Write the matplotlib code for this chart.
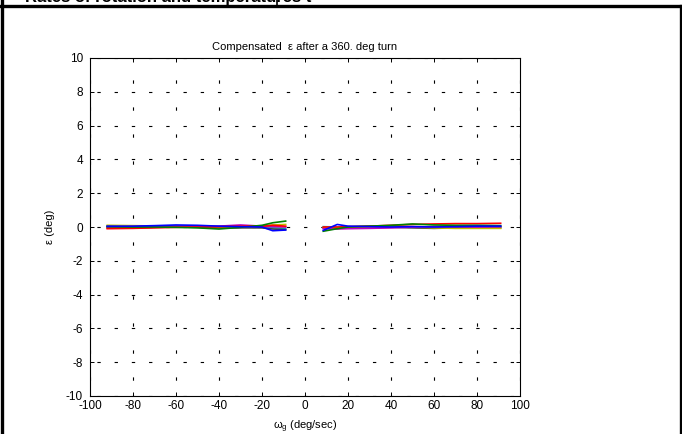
import matplotlib
matplotlib.use('Agg')
import matplotlib.pyplot as plt
from matplotlib.lines import Line2D

plt.rcParams['font.family'] = ['Liberation Sans', 'DejaVu Sans']
plt.rcParams['mathtext.fontset'] = 'custom'
plt.rcParams['mathtext.rm'] = 'Liberation Sans'
plt.rcParams['axes.unicode_minus'] = False

# rates of turn (deg/sec), negative and positive runs
x_neg = [-92, -80, -70, -60, -50, -40, -30, -20, -15, -9]
x_pos = [8.5, 15, 20, 30, 40, 50, 60, 70, 80, 91]

# compensated epsilon (deg) for each run
neg_runs = {
    'blue':    [0.05, 0.05, 0.08, 0.12, 0.10, 0.05, 0.02, 0.00, -0.22, -0.18],
    'green':   [0.02, 0.00, 0.00, -0.02, -0.05, -0.12, -0.02, 0.10, 0.25, 0.35],
    'red':     [-0.10, -0.08, -0.05, -0.02, 0.00, 0.02, 0.05, 0.05, 0.10, 0.05],
    'yellow':  [0.10, 0.08, 0.06, 0.05, 0.05, 0.02, 0.00, 0.05, 0.12, 0.15],
    'magenta': [0.00, 0.02, 0.05, 0.05, 0.02, 0.05, 0.12, 0.05, 0.02, 0.00],
    'black':   [-0.05, -0.05, -0.02, 0.00, -0.02, -0.05, -0.05, -0.05, -0.12, -0.15],
    'cyan':    [0.05, 0.03, 0.02, 0.05, 0.00, 0.00, 0.02, -0.02, -0.05, -0.08],
}
pos_runs = {
    'blue':    [-0.20, 0.15, 0.05, 0.02, 0.00, 0.02, 0.00, 0.02, 0.05, 0.05],
    'green':   [-0.25, -0.10, 0.00, 0.05, 0.10, 0.18, 0.12, 0.10, 0.10, 0.08],
    'red':     [0.00, 0.00, 0.02, 0.05, 0.10, 0.15, 0.18, 0.20, 0.20, 0.22],
    'yellow':  [-0.05, -0.05, -0.05, -0.02, 0.00, 0.00, -0.05, -0.08, -0.08, -0.08],
    'magenta': [-0.10, -0.12, -0.10, -0.08, -0.05, 0.00, 0.02, 0.02, 0.00, 0.02],
    'black':   [-0.05, -0.08, -0.05, -0.05, -0.02, -0.05, -0.08, -0.05, -0.05, -0.05],
    'cyan':    [0.02, 0.00, 0.02, 0.05, 0.05, 0.02, 0.00, 0.02, 0.05, 0.02],
}
colors = {'blue': '#0000ff', 'green': '#008000', 'red': '#ff0000',
          'yellow': '#bfbf00', 'magenta': '#bf00bf', 'black': '#404040',
          'cyan': '#00bfbf'}

xticks = list(range(-100, 101, 20))
yticks = list(range(-10, 11, 2))

fig = plt.figure(figsize=(6.82, 4.34), dpi=100)
ax = fig.add_axes([90 / 682, 38 / 434, 430 / 682, 338 / 434])

for name in ['cyan', 'black', 'yellow', 'magenta', 'red', 'green', 'blue']:
    ax.plot(x_neg, neg_runs[name], color=colors[name], lw=1.2)
    ax.plot(x_pos, pos_runs[name], color=colors[name], lw=1.2)

ax.set_xlim(-100, 100)
ax.set_ylim(-10, 10)
ax.set_xticks(xticks)
ax.set_yticks(yticks)
ax.tick_params(direction='in', top=True, right=True, length=3, width=0.7,
               labelsize=8.5)
ax.tick_params(axis='x', pad=3)
ax.tick_params(axis='y', pad=5)
for s in ax.spines.values():
    s.set_linewidth(0.8)

# sparse dotted grid like the matlab print
ax.xaxis.grid(True, color='k', lw=0.8, linestyle=(10.1, (3.0, 21.3)))
ax.yaxis.grid(True, color='k', lw=0.8, linestyle=(9.3, (3.0, 12.5)))

fig.text(305 / 682, 1 - 47 / 434, 'Compensated  \u03b5 after a 360. deg turn',
         ha='center', va='center', fontsize=8)
fig.text(50 / 682, 1 - 227 / 434, '\u03b5 (deg)', rotation=90,
         ha='center', va='center', fontsize=8)
fig.text(305 / 682, 1 - 427 / 434, r'$\mathregular{\omega_g}$ (deg/sec)',
         ha='center', va='center', fontsize=8)

# document frame around the figure (heading of the page above is cut off)
fig.text(25 / 682, 1 - 2 / 434, 'Rates of rotation and temperatures t',
         ha='left', va='baseline', fontsize=12, fontweight='bold')
fig.add_artist(Line2D([0, 1], [1 - 6 / 434, 1 - 6 / 434], color='k', lw=2.4,
                      transform=fig.transFigure))
fig.add_artist(Line2D([1.5 / 682, 1.5 / 682], [0, 1], color='k', lw=2.4,
                      transform=fig.transFigure))
fig.add_artist(Line2D([680.5 / 682, 680.5 / 682], [0, 1 - 6 / 434], color='k',
                      lw=2.4, transform=fig.transFigure))
fig.add_artist(Line2D([277 / 682, 277 / 682], [1 - 6 / 434, 1], color='k',
                      lw=1.2, transform=fig.transFigure))

fig.savefig('out.png', dpi=100)
